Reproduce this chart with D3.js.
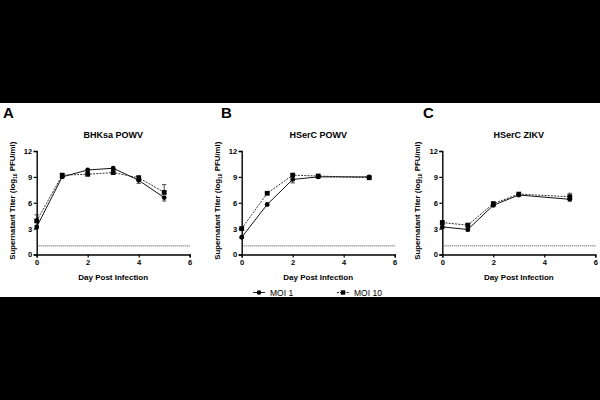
<!DOCTYPE html>
<html>
<head>
<meta charset="utf-8">
<script src="https://cdn.jsdelivr.net/npm/d3@7"></script>
<style>
  body { margin: 0; background: #000; }
  svg { display: block; }
  text { font-family: "Liberation Sans", Arial, sans-serif; }
</style>
</head>
<body>
<div id="chart"></div>
<script>
// *** data (log10 PFU/ml)
var panelLetters = ["A", "B", "C"];
var panelTitles = ["BHKsa POWV", "HSerC POWV", "HSerC ZIKV"];

var daysA = [0, 1, 2, 3, 4, 5];
var moi1A = [3.2, 9.0, 9.8, 10.0, 8.6, 6.6];
var moi1ErrA = [0.2, 0.1, 0.15, 0.15, 0.35, 0.4];
var moi10A = [3.9, 9.2, 9.3, 9.5, 8.9, 7.2];
var moi10ErrA = [0.7, 0.1, 0.15, 0.15, 0.2, 0.9];

var daysB = [0, 1, 2, 3, 5];
var moi1B = [2.0, 5.8, 8.7, 9.0, 9.0];
var moi1ErrB = [0.1, 0.1, 0.4, 0.1, 0.1];
var moi10B = [3.0, 7.1, 9.2, 9.1, 8.9];
var moi10ErrB = [0.1, 0.1, 0.1, 0.1, 0.1];

var daysC = [0, 1, 2, 3, 5];
var moi1C = [3.2, 2.9, 5.7, 6.9, 6.4];
var moi1ErrC = [0.2, 0.2, 0.15, 0.1, 0.2];
var moi10C = [3.7, 3.4, 5.9, 7.0, 6.7];
var moi10ErrC = [0.2, 0.2, 0.15, 0.1, 0.4];

var limitOfDetection = 1;
var xTicks = [0, 2, 4, 6];
var yTicks = [0, 3, 6, 9, 12];
var seriesNames = ["MOI 1", "MOI 10"];

// *** svg setup
var W = 600, H = 400;
var svg = d3.select("#chart").append("svg")
    .attr("width", W)
    .attr("height", H);

svg.append("rect")
    .attr("x", 0).attr("y", 0)
    .attr("width", W).attr("height", H)
    .attr("fill", "#000");

svg.append("rect")
    .attr("x", 0).attr("y", 103)
    .attr("width", W).attr("height", 194)
    .attr("fill", "#fff");

var panels = [
    {left: 36.7, days: daysA, m1: moi1A, e1: moi1ErrA, m10: moi10A, e10: moi10ErrA},
    {left: 241.7, days: daysB, m1: moi1B, e1: moi1ErrB, m10: moi10B, e10: moi10ErrB},
    {left: 442.3, days: daysC, m1: moi1C, e1: moi1ErrC, m10: moi10C, e10: moi10ErrC}
];

var plotW = 153, plotTop = 151, plotBottom = 254.5;
var letterX = [3, 221, 423];

panels.forEach(function(p, i) {
    var g = svg.append("g").attr("transform", "translate(" + p.left + ",0)");

    var x = d3.scaleLinear().domain([0, 6]).range([0, plotW]);
    var y = d3.scaleLinear().domain([0, 12]).range([plotBottom, plotTop]);

    // letter + title
    svg.append("text")
        .attr("x", letterX[i])
        .attr("y", 118)
        .style("font-size", "15px")
        .style("font-weight", "bold")
        .text(panelLetters[i]);

    g.append("text")
        .attr("x", plotW / 2)
        .attr("y", 137.5)
        .attr("text-anchor", "middle")
        .style("font-size", "9px")
        .style("font-weight", "bold")
        .text(panelTitles[i]);

    // limit of detection
    g.append("line")
        .attr("x1", 2).attr("x2", x(6))
        .attr("y1", y(limitOfDetection)).attr("y2", y(limitOfDetection))
        .attr("stroke", "#444")
        .attr("stroke-width", 1)
        .attr("stroke-dasharray", "1,1");

    // axes
    var xAxis = d3.axisBottom(x).tickValues(xTicks).tickFormat(d3.format("d")).tickSize(3).tickPadding(2);
    var yAxis = d3.axisLeft(y).tickValues(yTicks).tickFormat(d3.format("d")).tickSize(3).tickPadding(1.5);

    var gx = g.append("g")
        .attr("transform", "translate(0," + plotBottom + ")")
        .call(xAxis);
    var gy = g.append("g").call(yAxis);

    [gx, gy].forEach(function(a) {
        a.select(".domain").attr("stroke", "#000").attr("stroke-width", 1.4);
        a.selectAll(".tick line").attr("stroke", "#000").attr("stroke-width", 1.2);
        a.selectAll(".tick text")
            .attr("fill", "#000")
            .style("font-family", "'Liberation Sans', Arial, sans-serif")
            .style("font-size", "7.5px")
            .style("font-weight", "bold");
    });

    g.append("text")
        .attr("x", plotW / 2)
        .attr("y", 279.5)
        .attr("text-anchor", "middle")
        .style("font-size", "8px")
        .style("font-weight", "bold")
        .text("Day Post Infection");

    var yl = g.append("text")
        .attr("transform", "translate(-22," + ((plotTop + plotBottom) / 2 - 2) + ") rotate(-90)")
        .attr("text-anchor", "middle")
        .style("font-size", "7.8px")
        .style("font-weight", "bold");
    yl.append("tspan").text("Supernatant Titer (log");
    yl.append("tspan").attr("dy", 2).style("font-size", "5px").text("10");
    yl.append("tspan").attr("dy", -2).text(" PFU/ml)");

    // series
    var s1 = p.days.map(function(d, k) { return {day: d, v: p.m1[k], e: p.e1[k]}; });
    var s10 = p.days.map(function(d, k) { return {day: d, v: p.m10[k], e: p.e10[k]}; });

    var line = d3.line()
        .x(function(d) { return x(d.day); })
        .y(function(d) { return y(d.v); });

    g.append("path").datum(s10)
        .attr("d", line)
        .attr("fill", "none")
        .attr("stroke", "#333")
        .attr("stroke-width", 1)
        .attr("stroke-dasharray", "2,1.2");

    g.append("path").datum(s1)
        .attr("d", line)
        .attr("fill", "none")
        .attr("stroke", "#111")
        .attr("stroke-width", 1);

    // error bars: MOI 10 up, MOI 1 down
    function errBars(data, dir) {
        var eb = g.append("g");
        data.forEach(function(d) {
            var y0 = y(d.v), y1 = y(d.v + dir * d.e);
            eb.append("line")
                .attr("x1", x(d.day)).attr("x2", x(d.day))
                .attr("y1", y0).attr("y2", y1)
                .attr("stroke", "#222").attr("stroke-width", 0.8);
            eb.append("line")
                .attr("x1", x(d.day) - 2.2).attr("x2", x(d.day) + 2.2)
                .attr("y1", y1).attr("y2", y1)
                .attr("stroke", "#222").attr("stroke-width", 0.8);
        });
    }
    errBars(s10, 1);
    errBars(s1, -1);

    g.selectAll(".sq").data(s10).enter().append("rect")
        .attr("x", function(d) { return x(d.day) - 2.4; })
        .attr("y", function(d) { return y(d.v) - 2.4; })
        .attr("width", 4.8).attr("height", 4.8)
        .attr("fill", "#000");

    g.selectAll(".dot").data(s1).enter().append("circle")
        .attr("cx", function(d) { return x(d.day); })
        .attr("cy", function(d) { return y(d.v); })
        .attr("r", 2.4)
        .attr("fill", "#000");
});

// *** legend
var legend = svg.append("g").attr("transform", "translate(0,292.5)");
var legItems = [
    {x: 253, name: seriesNames[0], shape: "circle", dash: null},
    {x: 337, name: seriesNames[1], shape: "square", dash: "2,1.2"}
];
legItems.forEach(function(it) {
    legend.append("line")
        .attr("x1", it.x).attr("x2", it.x + 12)
        .attr("y1", 0).attr("y2", 0)
        .attr("stroke", "#222").attr("stroke-width", 1)
        .attr("stroke-dasharray", it.dash);
    if (it.shape === "circle") {
        legend.append("circle").attr("cx", it.x + 6).attr("cy", 0).attr("r", 2.3).attr("fill", "#000");
    } else {
        legend.append("rect").attr("x", it.x + 3.8).attr("y", -2.2).attr("width", 4.4).attr("height", 4.4).attr("fill", "#000");
    }
    legend.append("text")
        .attr("x", it.x + 17)
        .attr("y", 3)
        .style("font-size", "8.5px")
        .text(it.name);
});
</script>
</body>
</html>
